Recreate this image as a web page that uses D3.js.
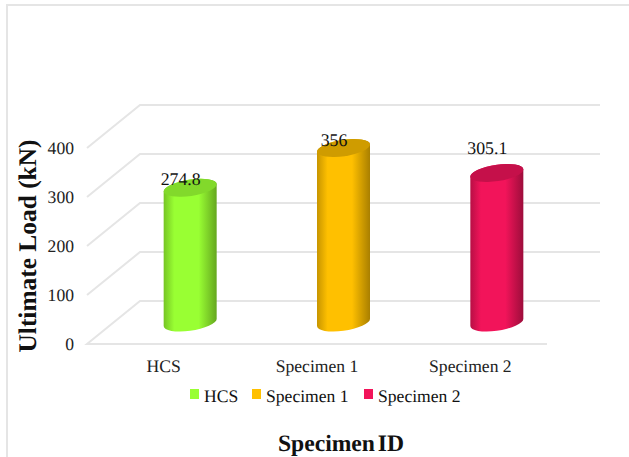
<!DOCTYPE html>
<html>
<head>
<meta charset="utf-8">
<script src="https://cdn.jsdelivr.net/npm/d3@7"></script>
<style>
  html, body { margin: 0; padding: 0; background: #fff; }
  svg { display: block; }
  text { font-family: "Liberation Serif", serif; fill: #111; text-rendering: geometricPrecision; }
  .tick text { font-size: 17.6px; fill: #222; }
  .grid { fill: none; stroke: #e5e5e5; stroke-width: 2; }
</style>
</head>
<body>
<div id="chart"></div>
<script>
const specimens = ['HCS', 'Specimen 1', 'Specimen 2'];
const ultimateLoad = [274.8, 356, 305.1];
const loadLabels = ['274.8', '356', '305.1'];
const loadTicks = [0, 100, 200, 300, 400];
const barColors = ['#99ff33', '#ffc000', '#f2145a'];
const barShades = ['#76c424', '#c79500', '#b80f45'];
const topColors = ['#82d92b', '#cf9c00', '#c5104a'];

const width = 629, height = 457;

// floor of the 3d box: front edge and how far the back wall is shifted
const floor = ({left: 87, right: 547, y: 344});
const depth = ({x: 53, y: -43});

let x = d3.scaleBand().domain(specimens).range([floor.left, floor.right]);
let y = d3.scaleLinear().domain([0, 400]).range([floor.y, floor.y - 196]);

const svg = d3.select('#chart').append('svg')
  .attr('width', width)
  .attr('height', height);

// gradients for the cylinder sides, right edge is the darker one
let defs = svg.append('defs');
let grads = defs.selectAll('linearGradient')
  .data(specimens)
  .enter().append('linearGradient')
  .attr('id', (d, i) => `side${i}`);
grads.append('stop').attr('offset', '0%').attr('stop-color', (d, i) => barShades[i]);
grads.append('stop').attr('offset', '20%').attr('stop-color', (d, i) => barColors[i]);
grads.append('stop').attr('offset', '66%').attr('stop-color', (d, i) => barColors[i]);
grads.append('stop').attr('offset', '100%').attr('stop-color', (d, i) => d3.color(barShades[i]).darker(0.45));

// page frame, only top and left show
svg.append('path')
  .attr('class', 'grid')
  .attr('d', `M7,${height} V5 H${width}`);

// gridlines along side wall and back wall
svg.append('g').selectAll('path')
  .data(loadTicks.slice(1))
  .enter().append('path')
  .attr('class', 'grid')
  .attr('d', d => `M${floor.left},${y(d)} l${depth.x},${depth.y} H${floor.right + depth.x}`);

svg.append('path')
  .attr('class', 'grid')
  .attr('d', `M${floor.right},${floor.y} H${floor.left} l${depth.x},${depth.y} H${floor.right + depth.x}`);

// axes
let yAxis = d3.axisLeft(y).tickValues(loadTicks).tickSize(0).tickPadding(0);
let xAxis = d3.axisBottom(x).tickSize(0).tickPadding(0);

let yg = svg.append('g').attr('transform', 'translate(74,0)').call(yAxis);
yg.select('.domain').remove();

let xg = svg.append('g').attr('transform', `translate(0,${floor.y + 15})`).call(xAxis);
xg.select('.domain').remove();

// tilted ellipse of the cylinder, worked out from its bounding half sizes
const halfW = 26.5, halfH = 9, tiltY = 3.6;
const tiltRad = 0.5 * Math.atan2(2 * tiltY * halfW, halfW * halfW - halfH * halfH);
const tiltDeg = tiltRad * 180 / Math.PI;
const axisDiff = (halfW * halfW - halfH * halfH) / Math.cos(2 * tiltRad);
const axisSum = halfW * halfW + halfH * halfH;
const rx = Math.sqrt((axisSum + axisDiff) / 2), ry = Math.sqrt((axisSum - axisDiff) / 2);

const cx = d => x(d) + x.bandwidth() / 2 + depth.x / 2;
const baseY = y(0) + depth.y / 2;
const topY = v => y(v) + depth.y / 2;

let bars = svg.selectAll('g.bar')
  .data(specimens)
  .enter().append('g')
  .attr('class', 'bar');

bars.append('path')
  .attr('fill', (d, i) => `url(#side${i})`)
  .attr('d', (d, i) => {
    let l = cx(d) - halfW, r = cx(d) + halfW, t = topY(ultimateLoad[i]);
    return `M${l},${t + tiltY} V${baseY + tiltY}` +
      ` A${rx},${ry} ${-tiltDeg} 0 0 ${r},${baseY - tiltY}` +
      ` V${t - tiltY}` +
      ` A${rx},${ry} ${-tiltDeg} 0 0 ${l},${t + tiltY} Z`;
  });

bars.append('ellipse')
  .attr('rx', rx)
  .attr('ry', ry)
  .attr('fill', (d, i) => topColors[i])
  .attr('transform', (d, i) => `translate(${cx(d)},${topY(ultimateLoad[i])}) rotate(${-tiltDeg})`);

// value labels, the last one sits well above its bar in the original
bars.append('text')
  .attr('text-anchor', 'middle')
  .attr('font-size', 17.8)
  .attr('x', d => cx(d) - 9.5)
  .attr('y', (d, i) => topY(ultimateLoad[i]) + (i === 2 ? -19.5 : -2.5))
  .text((d, i) => loadLabels[i]);

// legend
const legendX = [190, 252, 364];
let legend = svg.selectAll('g.legend')
  .data(specimens)
  .enter().append('g')
  .attr('class', 'legend')
  .attr('transform', (d, i) => `translate(${legendX[i]},389)`);

legend.append('rect')
  .attr('width', 9)
  .attr('height', 10)
  .attr('fill', (d, i) => barColors[i]);

legend.append('text')
  .attr('x', 14)
  .attr('y', 13)
  .attr('font-size', 17.6)
  .text(d => d);

// axis titles
svg.append('text')
  .attr('text-anchor', 'middle')
  .attr('font-weight', 'bold')
  .attr('font-size', 23.6)
  .attr('word-spacing', -3)
  .attr('x', 341)
  .attr('y', 451)
  .text('Specimen ID');

svg.append('text')
  .attr('text-anchor', 'middle')
  .attr('font-weight', 'bold')
  .attr('font-size', 25.4)
  .attr('transform', 'translate(36,246) rotate(-90)')
  .text('Ultimate Load (kN)');
</script>
</body>
</html>
